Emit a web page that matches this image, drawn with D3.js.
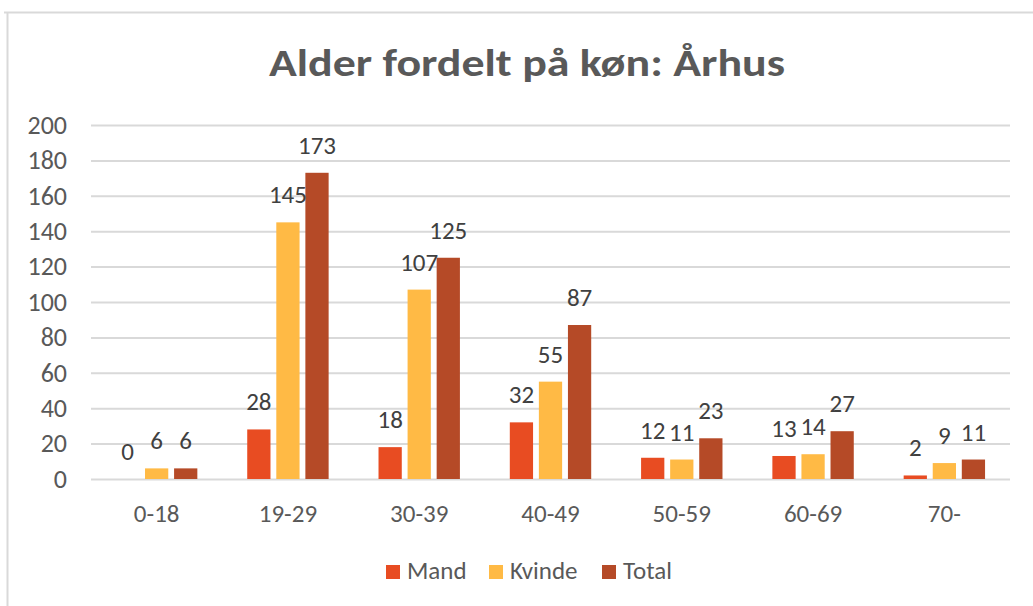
<!DOCTYPE html>
<html>
<head>
<meta charset="utf-8">
<script src="https://cdn.jsdelivr.net/npm/d3@7"></script>
<style>
  body { margin: 0; background: #fff; }
  text { font-family: Carlito, "Open Sans", "Noto Sans", sans-serif; }
</style>
</head>
<body>
<svg width="1033" height="606"></svg>
<script>
var categories = ["0-18", "19-29", "30-39", "40-49", "50-59", "60-69", "70-"];
var seriesNames = ["Mand", "Kvinde", "Total"];
var mand   = [0, 28, 18, 32, 12, 13, 2];
var kvinde = [6, 145, 107, 55, 11, 14, 9];
var total  = [6, 173, 125, 87, 23, 27, 11];
var yTicks = [0, 20, 40, 60, 80, 100, 120, 140, 160, 180, 200];
var colors = ["#E84C22", "#FFBA45", "#B54A27"];

var series = [mand, kvinde, total];

var svg = d3.select("svg"),
    width = +svg.attr("width"),
    height = +svg.attr("height");

var margin = {left: 91, right: 23, top: 125, bottom: 127};
var fontStack = "Carlito, 'Open Sans', 'Noto Sans', sans-serif";

// chart frame (top and left edges visible)
svg.append("line").attr("x1", 4).attr("x2", width).attr("y1", 12.5).attr("y2", 12.5)
    .attr("stroke", "#d9d9d9").attr("stroke-width", 2);
svg.append("line").attr("x1", 7.5).attr("x2", 7.5).attr("y1", 12).attr("y2", height)
    .attr("stroke", "#d9d9d9").attr("stroke-width", 2);

var x = d3.scaleBand()
    .domain(categories)
    .range([margin.left, width - margin.right])
    .paddingInner(0.38)
    .paddingOuter(0.19);

var xs = d3.scaleBand()
    .domain(seriesNames)
    .range([0, x.bandwidth()])
    .paddingInner(0.2)
    .paddingOuter(0);

var y = d3.scaleLinear()
    .domain([0, 200])
    .range([height - margin.bottom, margin.top]);

// title
svg.append("text")
    .attr("x", 527).attr("y", 76)
    .attr("text-anchor", "middle")
    .attr("font-size", 38).attr("font-weight", "bold")
    .attr("fill", "#595959")
    .attr("textLength", 516).attr("lengthAdjust", "spacingAndGlyphs")
    .text("Alder fordelt på køn: Århus");

// grid
var yAxis = d3.axisLeft(y).tickValues(yTicks)
    .tickSize(-(width - margin.left - margin.right)).tickPadding(24);
var gy = svg.append("g")
    .attr("transform", "translate(" + margin.left + ",0)")
    .call(yAxis);
gy.select(".domain").remove();
gy.selectAll(".tick line").attr("stroke", "#d9d9d9").attr("stroke-width", 2);
gy.selectAll(".tick text").attr("fill", "#595959").attr("font-size", 26)
    .attr("font-family", fontStack);

var xAxis = d3.axisBottom(x).tickSize(0).tickPadding(25);
var gx = svg.append("g")
    .attr("transform", "translate(0," + y(0) + ")")
    .call(xAxis);
gx.select(".domain").remove();
gx.selectAll(".tick text").attr("fill", "#595959").attr("font-size", 25)
    .attr("font-family", fontStack);

// bars
function rows(d, i) {
    return seriesNames.map(function(s, j) { return {s: s, j: j, v: series[j][i]}; });
}

var groups = svg.append("g").selectAll("g")
    .data(categories)
    .enter().append("g")
    .attr("transform", function(d) { return "translate(" + x(d) + ",0)"; });

groups.selectAll("rect")
    .data(rows)
    .enter().append("rect")
    .attr("x", function(d) { return xs(d.s); })
    .attr("width", xs.bandwidth())
    .attr("y", function(d) { return y(d.v); })
    .attr("height", function(d) { return y(0) - y(d.v); })
    .attr("fill", function(d) { return colors[d.j]; });

groups.selectAll("text")
    .data(rows)
    .enter().append("text")
    .attr("x", function(d) { return xs(d.s) + xs.bandwidth() / 2; })
    .attr("y", function(d) { return y(d.v) - 19; })
    .attr("text-anchor", "middle")
    .attr("font-size", 25)
    .attr("fill", "#404040")
    .text(function(d) { return d.v; });

// legend
var legendX = [386, 489, 602];
var legend = svg.append("g").selectAll("g")
    .data(seriesNames)
    .enter().append("g")
    .attr("transform", function(d, i) { return "translate(" + legendX[i] + ",565)"; });
legend.append("rect").attr("width", 14).attr("height", 14)
    .attr("fill", function(d, i) { return colors[i]; });
legend.append("text").attr("x", 21).attr("y", 14)
    .attr("font-size", 25).attr("fill", "#595959")
    .text(function(d) { return d; });
</script>
</body>
</html>
